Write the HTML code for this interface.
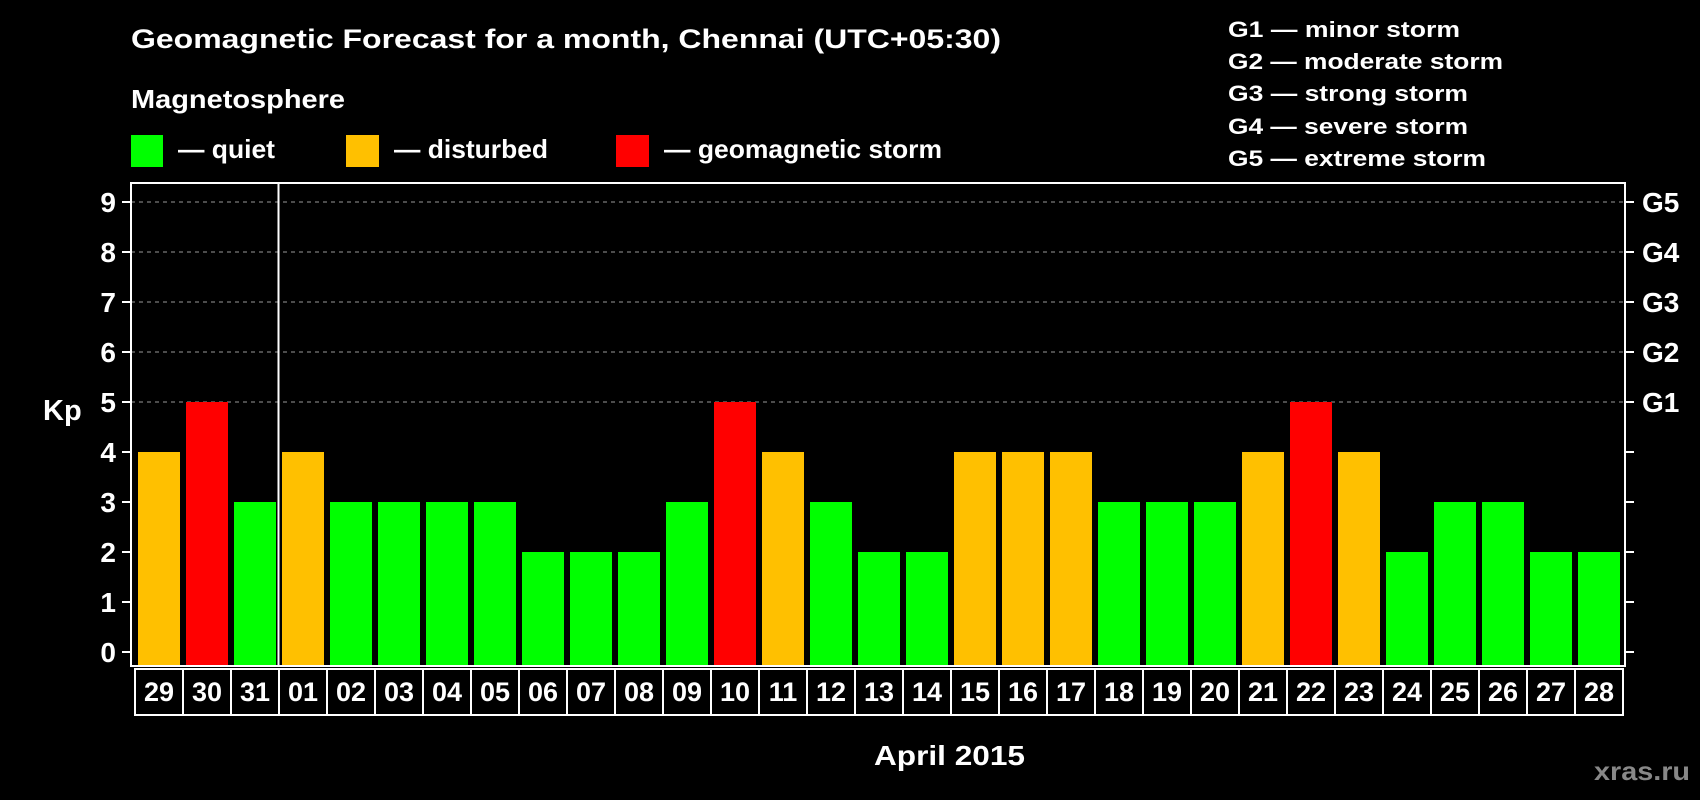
<!DOCTYPE html>
<html><head><meta charset="utf-8"><style>
html,body{margin:0;padding:0;background:#000;}
svg{display:block;font-family:"Liberation Sans",sans-serif;font-weight:bold;}
</style></head><body>
<svg id="chart" width="1700" height="800" viewBox="0 0 1700 800">
<rect width="1700" height="800" fill="#000"/>
<text x="131" y="48" fill="#fff" font-size="27" textLength="870" lengthAdjust="spacingAndGlyphs">Geomagnetic Forecast for a month, Chennai (UTC+05:30)</text>
<text x="131" y="108" fill="#fff" font-size="26" textLength="214" lengthAdjust="spacingAndGlyphs">Magnetosphere</text>
<g><rect x="131" y="135" width="32" height="32" fill="#00ff00"/><text x="178" y="158" fill="#fff" font-size="26" textLength="97" lengthAdjust="spacingAndGlyphs">— quiet</text></g>
<g><rect x="346" y="135" width="33" height="32" fill="#ffc000"/><text x="394" y="158" fill="#fff" font-size="26" textLength="154" lengthAdjust="spacingAndGlyphs">— disturbed</text></g>
<g><rect x="616" y="135" width="33" height="32" fill="#ff0000"/><text x="664" y="158" fill="#fff" font-size="26" textLength="278" lengthAdjust="spacingAndGlyphs">— geomagnetic storm</text></g>
<g fill="#fff" font-size="22">
<text x="1228" y="37" textLength="232" lengthAdjust="spacingAndGlyphs">G1 — minor storm</text>
<text x="1228" y="69" textLength="275" lengthAdjust="spacingAndGlyphs">G2 — moderate storm</text>
<text x="1228" y="101" textLength="240" lengthAdjust="spacingAndGlyphs">G3 — strong storm</text>
<text x="1228" y="134" textLength="240" lengthAdjust="spacingAndGlyphs">G4 — severe storm</text>
<text x="1228" y="166" textLength="258" lengthAdjust="spacingAndGlyphs">G5 — extreme storm</text>
</g>
<text x="43" y="420" fill="#fff" font-size="29">Kp</text>
<text x="874" y="765" fill="#fff" font-size="28" textLength="151" lengthAdjust="spacingAndGlyphs">April 2015</text>
<text x="1594" y="780" fill="#888" font-size="26" textLength="96" lengthAdjust="spacingAndGlyphs">xras.ru</text>
<g id="grid"></g><g id="bars"></g><g id="axes"></g><g id="dates"></g>
</svg>
<script>
const days = ["29","30","31","01","02","03","04","05","06","07","08","09","10","11","12","13","14","15","16","17","18","19","20","21","22","23","24","25","26","27","28"];
const kpValues = [4,5,3,4,3,3,3,3,2,2,2,3,5,4,3,2,2,4,4,4,3,3,3,4,5,4,2,3,3,2,2];
const yTicks = [0,1,2,3,4,5,6,7,8,9];
const gLabels = ["G1","G2","G3","G4","G5"];
const gLevels = [5,6,7,8,9];
const NS="http://www.w3.org/2000/svg";
const L=131,R=1625,T=183,B=666,Y0=652,UNIT=50,STEP=48,X0=138,BW=42;
const y=v=>Y0-v*UNIT;
const x=i=>X0+i*STEP;
function mk(tag,attrs,parent){const e=document.createElementNS(NS,tag);for(const k in attrs)e.setAttribute(k,attrs[k]);parent.appendChild(e);return e;}
const grid=document.getElementById('grid'),bars=document.getElementById('bars'),axes=document.getElementById('axes'),dates=document.getElementById('dates');
gLevels.forEach((v,i)=>{
 const ln=mk('line',{x1:L,x2:R,y1:y(v),y2:y(v),stroke:'#999','stroke-dasharray':'4,4','stroke-width':1},grid);
 
 
 const t=mk('text',{x:1642,y:y(v)+10,fill:'#fff','font-size':28},axes);t.textContent=gLabels[i];
 
 
});
function col(v){return v>=5?'#ff0000':(v>=4?'#ffc000':'#00ff00');}
kpValues.forEach((v,i)=>{
 const r=mk('rect',{x:x(i),y:y(v),width:BW,height:B-y(v),fill:col(v)},bars);
 
 
});
const frame=mk('rect',{x:L,y:T,width:R-L,height:B-T,fill:'none',stroke:'#fff','stroke-width':2},axes);


const sep=mk('line',{x1:x(3)-3.5,x2:x(3)-3.5,y1:T,y2:B,stroke:'#fff','stroke-width':2},axes);


yTicks.forEach(v=>{
 mk('line',{x1:122,x2:L,y1:y(v),y2:y(v),stroke:'#fff','stroke-width':2},axes);
 mk('line',{x1:R,x2:1634,y1:y(v),y2:y(v),stroke:'#fff','stroke-width':2},axes);
 const t=mk('text',{x:116,y:y(v)+10,fill:'#fff','font-size':28,'text-anchor':'end'},axes);t.textContent=v;
 
 
});
days.forEach((d,i)=>{
 const bx=x(i)-3;
 const r=mk('rect',{x:bx,y:669,width:STEP,height:46,fill:'none',stroke:'#fff','stroke-width':2},dates);
 
 
 const t=mk('text',{x:bx+STEP/2,y:701,fill:'#fff','font-size':27,'text-anchor':'middle'},dates);t.textContent=d;
 
 
});
</script>
</body></html>
